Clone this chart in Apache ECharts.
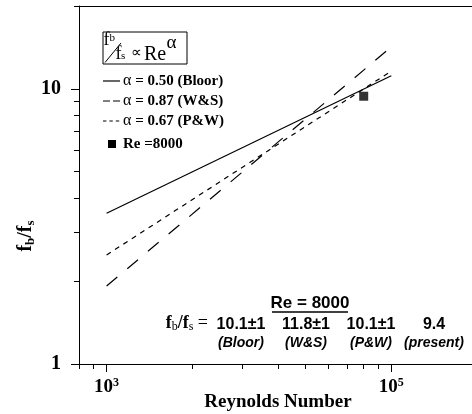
<!DOCTYPE html>
<html><head><meta charset="utf-8">
<script src="https://cdn.jsdelivr.net/npm/echarts@6/dist/echarts.min.js"></script>
<style>html,body{margin:0;padding:0;background:#fff}#c{width:472px;height:414px}</style>
</head><body><div id="c"></div>
<script>
// ---- data ----
const xBloor = [1e4, 1e5];
const yBloor = [3.53, 11.15];
const xWS = [1e4, 1e5];
const yWS = [1.92, 14.2];
const xPW = [1e4, 1e5];
const yPW = [2.49, 11.6];
const xPresent = [8e4];
const yPresent = [9.4];

const xMajorTicks = [1e4, 1e5];
const xMajorExponents = ['3', '5'];
const xMinorTicks = [8000, 9000, 20000, 30000, 40000, 50000, 60000, 70000, 80000, 90000];
const yMajorTicks = [1, 10];
const yMinorTicks = [2, 3, 4, 5, 6, 7, 8, 9, 20];

const legendNames = ['\u03b1', '\u03b1', '\u03b1', 'Re =8000'];
const legendValues = [' = 0.50 (Bloor)', ' = 0.87 (W&S)', ' = 0.67 (P&W)'];
const tableTitle = 'Re = 8000';
const tableValues = ['10.1\u00b11', '11.8\u00b11', '10.1\u00b11', '9.4'];
const tableSources = ['(Bloor)', '(W&S)', '(P&W)', '(present)'];

const SERIF = '"Liberation Serif", "Times New Roman", serif';
const SANS = '"Liberation Sans", Arial, sans-serif';

function zip(a, b) { return a.map((v, i) => [v, b[i]]); }

const chart = echarts.init(document.getElementById('c'), null, {renderer: 'canvas'});

const black = '#000';
const XMIN = 8000, XMAX = 200000, YMIN = 1, YMAX = 20;

const tableX = [241, 306, 371, 434];

const graphics = [];
// formula box
graphics.push({type: 'rect', shape: {x: 103, y: 32, width: 84, height: 32}, style: {fill: 'none', stroke: black, lineWidth: 1}});
graphics.push({type: 'text', x: 103.5, y: 31, style: {text: 'f', font: '18px ' + SERIF, fill: black}});
graphics.push({type: 'text', x: 109.5, y: 33, style: {text: 'b', font: '11px ' + SERIF, fill: black}});
graphics.push({type: 'line', shape: {x1: 105, y1: 62.5, x2: 121, y2: 43}, style: {stroke: black, lineWidth: 1}});
graphics.push({type: 'text', x: 115.5, y: 45, style: {text: 'f', font: '18px ' + SERIF, fill: black}});
graphics.push({type: 'text', x: 121, y: 51, style: {text: 's', font: '11px ' + SERIF, fill: black}});
graphics.push({type: 'text', x: 130.5, y: 53, style: {text: '\u221d', verticalAlign: 'middle', font: '15px ' + SERIF, fill: black}});
graphics.push({type: 'text', x: 144, y: 45, style: {text: 'Re', font: '20px ' + SERIF, fill: black}});
graphics.push({type: 'text', x: 166.5, y: 34, style: {text: '\u03b1', font: '19px ' + SERIF, fill: black}});

// legend samples
const legY = [81, 101, 121];
const legDash = [null, [7, 3], [3.4, 3]];
for (let i = 0; i < 3; i++) {
  graphics.push({type: 'line', shape: {x1: 103, y1: legY[i], x2: 120, y2: legY[i]},
    style: {stroke: black, lineWidth: 1.2, lineDash: legDash[i]}});
  graphics.push({type: 'text', x: 123, y: legY[i], style: {
    text: '{a|' + legendNames[i] + '}{b|' + legendValues[i] + '}',
    verticalAlign: 'middle',
    rich: {a: {font: '16px ' + SERIF, fill: black}, b: {font: 'bold 15px ' + SERIF, fill: black}}
  }});
}
graphics.push({type: 'rect', shape: {x: 108, y: 140, width: 8, height: 8}, style: {fill: black}});
graphics.push({type: 'text', x: 123, y: 144, style: {text: legendNames[3], verticalAlign: 'middle', font: 'bold 15px ' + SERIF, fill: black}});

// table
graphics.push({type: 'text', x: 310, y: 303, style: {text: tableTitle, align: 'center', verticalAlign: 'middle', font: 'bold 17px ' + SANS, fill: black}});
graphics.push({type: 'line', shape: {x1: 272, y1: 312, x2: 348, y2: 312}, style: {stroke: black, lineWidth: 1.5}});
graphics.push({type: 'text', x: 208, y: 323, style: {
  text: '{f|f}{s|b}{f|/f}{s|s}{e| =}', align: 'right', verticalAlign: 'middle',
  rich: {f: {font: 'bold 18px ' + SERIF, fill: black}, s: {font: '12px ' + SERIF, fill: black, padding: [8, 0, 0, 0]}, e: {font: '18px ' + SERIF, fill: black}}
}});
for (let i = 0; i < 4; i++) {
  graphics.push({type: 'text', x: tableX[i], y: 325, style: {text: tableValues[i], align: 'center', verticalAlign: 'middle', font: 'bold 16px ' + SANS, fill: black}});
  graphics.push({type: 'text', x: tableX[i], y: 343, style: {text: tableSources[i], align: 'center', verticalAlign: 'middle', font: 'italic bold 14px ' + SANS, fill: black}});
}
// y axis title
graphics.push({type: 'text', x: 26, y: 236, rotation: Math.PI / 2, style: {
  text: '{f|f}{s|b}{f|/f}{s|s}', align: 'center', verticalAlign: 'middle',
  rich: {f: {font: 'bold 20px ' + SERIF, fill: black}, s: {font: 'bold 13px ' + SERIF, fill: black, padding: [9, 0, 0, 0]}}
}});

const axisLineStyle = {color: black, width: 1};

const option = {
  animation: false,
  backgroundColor: '#fff',
  grid: {left: 79, top: 6, width: 398, height: 358, containLabel: false, outerBoundsMode: 'none'},
  xAxis: [
    {type: 'log', logBase: 10, min: XMIN, max: XMAX, position: 'bottom',
     axisLine: {show: true, lineStyle: axisLineStyle},
     axisTick: {show: true, length: 8, customValues: xMajorTicks, lineStyle: axisLineStyle},
     axisLabel: {show: true, customValues: xMajorTicks, margin: 13,
       formatter: function (v) {
         const i = xMajorTicks.findIndex(t => Math.abs(Math.log10(t) - Math.log10(v)) < 1e-6);
         return i < 0 ? '' : '{b|10}{s|' + xMajorExponents[i] + '}';
       },
       rich: {
         b: {fontFamily: SERIF, fontWeight: 'bold', fontSize: 19, color: black},
         s: {fontFamily: SERIF, fontWeight: 'bold', fontSize: 12, color: black, padding: [0, 0, 8, 0]}
       }},
     splitLine: {show: false},
     name: 'Reynolds Number', nameLocation: 'middle', nameGap: 29, nameMoveOverlap: false,
     nameTextStyle: {fontFamily: SERIF, fontWeight: 'bold', fontSize: 19, color: black}},
    {type: 'log', logBase: 10, min: XMIN, max: XMAX, position: 'bottom',
     axisLine: {show: false},
     axisTick: {show: true, length: 5, customValues: xMinorTicks, lineStyle: axisLineStyle},
     axisLabel: {show: false}, splitLine: {show: false}},
    {type: 'log', logBase: 10, min: XMIN, max: XMAX, position: 'top',
     axisLine: {show: true, lineStyle: axisLineStyle},
     axisTick: {show: false}, axisLabel: {show: false}, splitLine: {show: false}}
  ],
  yAxis: [
    {type: 'log', logBase: 10, min: YMIN, max: YMAX, position: 'left',
     axisLine: {show: true, lineStyle: axisLineStyle},
     axisTick: {show: true, length: 8, customValues: yMajorTicks, lineStyle: axisLineStyle},
     axisLabel: {show: true, customValues: yMajorTicks, margin: 18,
       formatter: v => String(Math.round(v)),
       fontFamily: SERIF, fontWeight: 'bold', fontSize: 20, color: black},
     splitLine: {show: false}},
    {type: 'log', logBase: 10, min: YMIN, max: YMAX, position: 'left',
     axisLine: {show: false},
     axisTick: {show: true, length: 5, customValues: yMinorTicks, lineStyle: axisLineStyle},
     axisLabel: {show: false}, splitLine: {show: false}}
  ],
  series: [
    {type: 'line', name: 'Bloor', data: zip(xBloor, yBloor), symbol: 'none', lineStyle: {color: black, width: 1.2, type: 'solid'}},
    {type: 'line', name: 'W&S', data: zip(xWS, yWS), symbol: 'none', lineStyle: {color: black, width: 1.2, type: [14, 13]}},
    {type: 'line', name: 'P&W', data: zip(xPW, yPW), symbol: 'none', lineStyle: {color: black, width: 1.2, type: [5, 5]}},
    {type: 'scatter', name: 'present', data: zip(xPresent, yPresent), symbol: 'rect', symbolSize: 9, itemStyle: {color: black}}
  ],
  graphic: graphics
};
chart.setOption(option);
</script>
</body></html>
